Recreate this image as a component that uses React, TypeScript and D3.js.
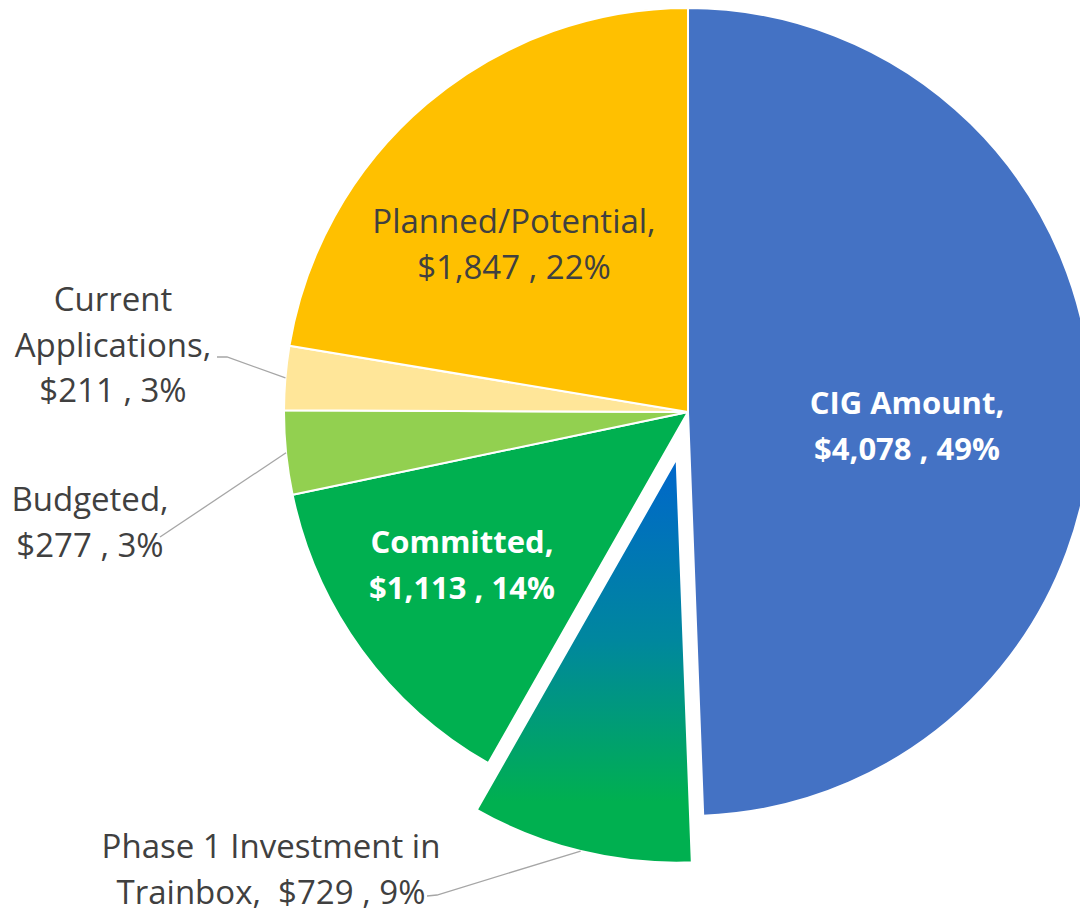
import React, { useEffect, useRef } from "react";
import * as d3 from "d3";

// ---- data (clockwise from 12 o'clock) ----
const categories = [
  "CIG Amount",
  "Phase 1 Investment in Trainbox",
  "Committed",
  "Budgeted",
  "Current Applications",
  "Planned/Potential",
];
const values = [4078, 729, 1113, 277, 211, 1847];
const percents = [49, 9, 14, 3, 3, 22];
const colors = ["#4472C4", "url(#phaseGrad)", "#00B050", "#92D050", "#FFE699", "#FFC000"];

// ---- layout (label text lines, anchor positions, styles) ----
const labelLines = [
  ["CIG Amount,", "$4,078 , 49%"],
  ["Phase 1 Investment in", "Trainbox,  $729 , 9%"],
  ["Committed,", "$1,113 , 14%"],
  ["Budgeted,", "$277 , 3%"],
  ["Current", "Applications,", "$211 , 3%"],
  ["Planned/Potential,", "$1,847 , 22%"],
];
const labelPos = [
  { x: 907, y: 414, bold: true, color: "#FFFFFF" },
  { x: 271, y: 858, bold: false, color: "#404040" },
  { x: 462, y: 553, bold: true, color: "#FFFFFF" },
  { x: 90, y: 511, bold: false, color: "#404040" },
  { x: 113, y: 311, bold: false, color: "#404040" },
  { x: 514, y: 233, bold: false, color: "#404040" },
];
// leader line start points (near label text), null = no leader
const leaderStart: ([number, number][] | null)[] = [
  null,
  [[427, 896], [437, 895]],
  null,
  [[160, 537]],
  [[217, 357], [227, 357]],
  null,
];
const explode = [0, 48, 0, 0, 0, 0];

const W = 1080;
const H = 912;
const CX = 688;
const CY = 412;
const R = 404;
const LINE_H = 45.5;

export default function App() {
  const ref = useRef<SVGSVGElement | null>(null);

  useEffect(() => {
    const svg = d3.select(ref.current);
    svg.selectAll("*").remove();

    const defs = svg.append("defs");
    const grad = defs
      .append("linearGradient")
      .attr("id", "phaseGrad")
      .attr("x1", 0)
      .attr("y1", 0)
      .attr("x2", 0)
      .attr("y2", 1);
    grad.append("stop").attr("offset", "0%").attr("stop-color", "#0066CC");
    grad.append("stop").attr("offset", "45%").attr("stop-color", "#00879E");
    grad.append("stop").attr("offset", "85%").attr("stop-color", "#00B050");
    grad.append("stop").attr("offset", "100%").attr("stop-color", "#00B050");

    const pie = d3
      .pie<number>()
      .sort(null)
      .startAngle(0)
      .endAngle(2 * Math.PI)
      .value((d) => d);
    const arcs = pie(values);
    const arc = d3.arc<d3.PieArcDatum<number>>().innerRadius(0).outerRadius(R);

    const g = svg.append("g").attr("transform", `translate(${CX},${CY})`);

    const offset = (a: d3.PieArcDatum<number>, i: number) => {
      const m = (a.startAngle + a.endAngle) / 2;
      return [Math.sin(m) * explode[i], -Math.cos(m) * explode[i]];
    };

    g.selectAll("path.slice")
      .data(arcs)
      .join("path")
      .attr("class", "slice")
      .attr("d", (d) => arc(d) as string)
      .attr("transform", (d, i) => {
        const [dx, dy] = offset(d, i);
        return `translate(${dx},${dy})`;
      })
      .attr("fill", (_, i) => colors[i])
      .attr("stroke", "#FFFFFF")
      .attr("stroke-width", 2)
      .attr("stroke-linejoin", "round");

    // leader lines
    arcs.forEach((a, i) => {
      const pts = leaderStart[i];
      if (!pts) return;
      const m = (a.startAngle + a.endAngle) / 2;
      const rr = R + explode[i];
      const end: [number, number] = [CX + Math.sin(m) * rr, CY - Math.cos(m) * rr];
      const all = [...pts, end];
      svg
        .append("path")
        .attr("d", d3.line()(all) as string)
        .attr("fill", "none")
        .attr("stroke", "#A6A6A6")
        .attr("stroke-width", 1.3);
    });

    // labels
    labelLines.forEach((lines, i) => {
      const p = labelPos[i];
      const t = svg
        .append("text")
        .attr("text-anchor", "middle")
        .attr("font-family", "'Open Sans', 'Noto Sans', sans-serif")
        .attr("font-size", p.bold ? 31 : 33)
        .attr("font-weight", p.bold ? 700 : 400)
        .attr("fill", p.color);
      lines.forEach((ln, k) => {
        t.append("tspan")
          .attr("x", p.x)
          .attr("y", p.y + k * LINE_H)
          .attr("xml:space", "preserve")
          .style("white-space", "pre")
          .text(ln);
      });
    });
  }, []);

  return (
    <div style={{ position: "fixed", left: 0, top: 0 }}>
      <svg ref={ref} width={W} height={H} style={{ display: "block", background: "#FFFFFF" }} />
    </div>
  );
}
